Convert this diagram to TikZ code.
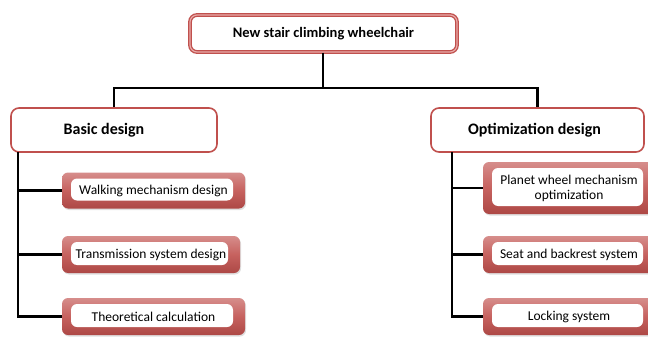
\documentclass[tikz,border=0pt]{standalone}
\usepackage{fontspec}
\setmainfont{Carlito}
\usepackage{tikz}
\usetikzlibrary{positioning, shadows}
\definecolor{boxred}{RGB}{192,80,77}
\definecolor{boxpink}{RGB}{232,170,168}

\begin{document}
\begin{tikzpicture}[x=1pt, y=-1pt,
        conn/.style={draw=black, line width=2.8pt},
        topbox/.style={rectangle, rounded corners=7pt, draw=boxred, line width=1.3pt, double=boxpink, double distance=1.2pt, fill=white, font=\bfseries\fontsize{14.5}{16}\selectfont},
        mainbox/.style={rectangle, rounded corners=8pt, draw=boxred, line width=1.6pt, fill=white, font=\bfseries\fontsize{16}{18}\selectfont},
        subbox/.style={rectangle, rounded corners=6pt, top color=boxred!65, bottom color=boxred!90!black, middle color=boxred!90,
            drop shadow={shadow xshift=1pt, shadow yshift=-1.5pt, opacity=.25},
            path picture={\fill[white] ([shift={(9pt,-6pt)}]path picture bounding box.north west) rectangle ([shift={(-12pt,8pt)}]path picture bounding box.south east);},
            font=\fontsize{13.5}{15}\selectfont, align=center, inner sep=0pt}]
        \useasboundingbox (0,0) rectangle (648,337);
        \node[topbox, minimum width=267, minimum height=37] (top) at (323.5,33.5) {New stair climbing wheelchair};
        \node[mainbox, minimum width=206, minimum height=44] (basic) at (114,130) {\hspace*{-20pt}Basic design};
        \node[mainbox, minimum width=213, minimum height=44] (opt) at (537.5,130) {\hspace*{-6pt}Optimization design};
        \node[subbox, minimum width=183, minimum height=36] (walk) at (153.5,190.5) {Walking mechanism\ design};
        \node[subbox, minimum width=178, minimum height=37] (trans) at (151,254.5) {Transmission system design};
        \node[subbox, minimum width=183, minimum height=37] (theo) at (153.5,316.5) {Theoretical calculation};
        \node[subbox, minimum width=172, minimum height=52] (planet) at (569,188) {Planet wheel mechanism\\optimization};
        \node[subbox, minimum width=172, minimum height=37] (seat) at (569,254.5) {Seat and backrest system};
        \node[subbox, minimum width=172, minimum height=37] (lock) at (569,316.5) {Locking system};

        \coordinate (split) at (323,88);
        \coordinate (lspine) at (18,152);
        \coordinate (rspine) at (452,152);

        \draw[conn] (top.south -| split) -- (split);
        \draw[conn] (basic.north) |- (split) -| (opt.north);
        \draw[conn] (lspine) |- (walk.west)
            (lspine) |- (trans.west)
            (lspine) |- (theo.west);
        \draw[conn] (rspine) |- (planet.west)
            (rspine) |- (seat.west)
            (rspine) |- (lock.west);
\end{tikzpicture}
\end{document}
